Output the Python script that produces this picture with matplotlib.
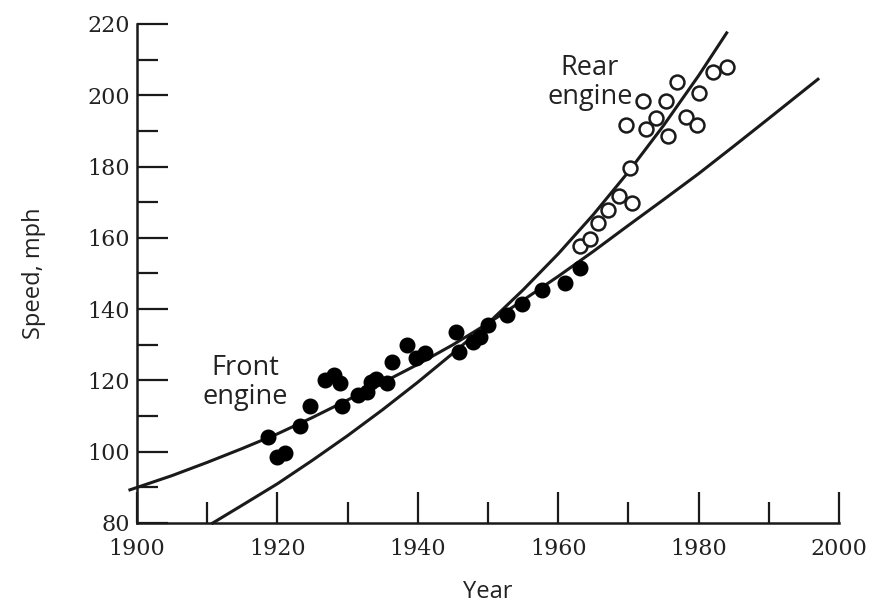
import matplotlib
matplotlib.use("Agg")
import matplotlib.pyplot as plt
from matplotlib.ticker import MultipleLocator

# front engine winners (filled)
front_year = [1918.7, 1919.9, 1921.1, 1923.2, 1924.6, 1926.8, 1928.0, 1928.9, 1929.2,
              1931.5, 1932.7, 1933.4, 1934.1, 1935.6, 1936.3, 1938.4, 1939.8, 1941.0,
              1945.5, 1945.8, 1947.9, 1948.9, 1950.0, 1952.7, 1954.8, 1957.7, 1961.0, 1963.1]
front_speed = [104.2, 98.6, 99.7, 107.2, 112.9, 120.1, 121.5, 119.4, 112.8,
               115.9, 116.8, 119.6, 120.3, 119.4, 125.3, 129.9, 126.2, 127.8,
               133.7, 128.1, 130.9, 132.3, 135.6, 138.4, 141.4, 145.4, 147.3, 151.5]

# rear engine winners (open)
rear_year = [1963.1, 1964.5, 1965.7, 1967.1, 1968.6, 1970.5, 1970.2, 1969.7, 1972.1, 1972.5,
             1974.0, 1975.4, 1975.7, 1976.9, 1978.2, 1979.7, 1980.0, 1982.1, 1984.0]
rear_speed = [157.7, 159.6, 164.1, 167.8, 171.6, 169.7, 179.5, 191.7, 198.4, 190.5,
              193.6, 198.4, 188.6, 203.8, 193.8, 191.7, 200.7, 206.6, 208.0]

# fitted curves
fitA_year = [1899, 1905, 1910, 1915, 1920, 1925, 1930, 1935, 1940, 1945, 1950,
             1955, 1960, 1965, 1970, 1975, 1980, 1985, 1990, 1997]
fitA_speed = [89.3, 93.3, 97, 100.9, 105, 109.6, 114.5, 119.4, 124.5, 130, 136,
              142.5, 149.2, 156.2, 163.5, 170.7, 178, 185.7, 193.5, 204.5]
fitB_year = [1910.8, 1915, 1920, 1925, 1930, 1935, 1940, 1945, 1950, 1955, 1960,
             1965, 1970, 1975, 1980, 1984]
fitB_speed = [80, 85, 91, 97.6, 104.5, 111.8, 119.5, 127.6, 136, 145.4, 155.5,
              166.5, 178.5, 191.5, 205.5, 217.5]

fig = plt.figure(figsize=(8.78, 6.07), dpi=100)
ax = fig.add_axes([0.156, 0.1384, 0.7996, 0.8221])

ax.plot(fitA_year, fitA_speed, color="#1a1a1a", lw=2.2, clip_on=False)
ax.plot(fitB_year, fitB_speed, color="#1a1a1a", lw=2.2, clip_on=False)
ax.plot(front_year, front_speed, "o", color="black", ms=10.5, clip_on=False)
ax.plot(rear_year, rear_speed, "o", mfc="white", mec="#1a1a1a", mew=1.8, ms=10, clip_on=False)

ax.text(1915.4, 119.3, "Front\nengine", ha="center", va="center", fontsize=19.5,
        family="Open Sans", linespacing=1.05, color="#222222")
ax.text(1964.5, 203.7, "Rear\nengine", ha="center", va="center", fontsize=19.5,
        family="Open Sans", linespacing=1.05, color="#222222")

ax.set_xlim(1900, 2000)
ax.set_ylim(80, 220)
ax.spines["top"].set_visible(False)
ax.spines["right"].set_visible(False)
for s in ("left", "bottom"):
    ax.spines[s].set_linewidth(1.8)
    ax.spines[s].set_color("#1a1a1a")

ax.xaxis.set_major_locator(MultipleLocator(20))
ax.xaxis.set_minor_locator(MultipleLocator(10))
ax.yaxis.set_major_locator(MultipleLocator(20))
ax.yaxis.set_minor_locator(MultipleLocator(10))
ax.tick_params(which="major", direction="in", length=22, width=1.6, color="#1a1a1a",
               labelsize=16)
ax.tick_params(axis="x", which="major", pad=11)
ax.tick_params(axis="y", which="major", pad=5)
ax.tick_params(which="minor", direction="in", length=15, width=1.6, color="#1a1a1a")
for lab in ax.get_xticklabels() + ax.get_yticklabels():
    lab.set_family("DejaVu Serif")
    lab.set_color("#222222")

ax.set_xlabel("Year", fontsize=17, family="Open Sans", color="#222222", labelpad=14)
ax.set_ylabel("Speed, mph", fontsize=17, family="Open Sans", color="#222222", labelpad=30)

fig.savefig("out.png", dpi=100)
